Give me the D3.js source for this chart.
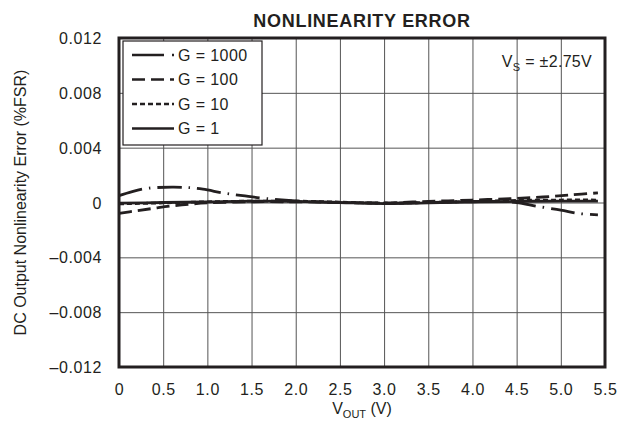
<!DOCTYPE html>
<html>
<head>
<meta charset="utf-8">
<script src="https://cdn.jsdelivr.net/npm/d3@7"></script>
<style>
  body { margin: 0; background: #fff; }
  text { font-family: "Liberation Sans", Arial, sans-serif; fill: #231f20; }
</style>
</head>
<body>
<div id="canvas"></div>
<script>
// values
const xTicks = [0, 0.5, 1.0, 1.5, 2.0, 2.5, 3.0, 3.5, 4.0, 4.5, 5.0, 5.5]
const xTickLabels = ["0", "0.5", "1.0", "1.5", "2.0", "2.5", "3.0", "3.5", "4.0", "4.5", "5.0", "5.5"]
const yTicks = [0.012, 0.008, 0.004, 0, -0.004, -0.008, -0.012]
const yTickLabels = ["0.012", "0.008", "0.004", "0", "–0.004", "–0.008", "–0.012"]

const vout1000 = [0, 0.15, 0.33, 0.6, 0.8, 0.95, 1.2, 1.4, 1.65, 2.0, 2.5, 3.0, 3.5, 4.0, 4.3, 4.5, 4.75, 5.0, 5.2, 5.42]
const err1000 = [0.0005, 0.0008, 0.00104, 0.00112, 0.00108, 0.00097, 0.00067, 0.0005, 0.0003, 0.00012, 0.0, -0.00005, 0.0, 0.00008, 0.00008, 0.0, -0.0003, -0.00055, -0.0008, -0.0009]

const vout100 = [0, 0.2, 0.4, 0.6, 0.8, 1.0, 1.5, 2.0, 2.5, 3.0, 3.5, 4.0, 4.5, 4.8, 5.1, 5.42]
const err100 = [-0.0008, -0.0006, -0.00042, -0.00025, -0.00012, -0.00003, 0.00005, 0.00005, 0.0, -0.00003, 0.00008, 0.00018, 0.0003, 0.0004, 0.00055, 0.0007]

const vout10 = [0, 0.5, 1.0, 1.5, 2.0, 2.5, 3.0, 3.5, 4.0, 4.5, 5.0, 5.42]
const err10 = [-0.0001, -0.00003, 0.00005, 0.0001, 0.0001, 0.00003, -0.00005, 0.0, 0.00008, 0.00015, 0.00018, 0.00018]

const vout1 = [0, 0.5, 1.0, 1.5, 2.0, 2.5, 3.0, 3.5, 4.0, 4.5, 5.0, 5.42]
const err1 = [-0.00005, 0.0, 0.00005, 0.0001, 0.00008, 0.0, -0.00008, -0.00003, 0.00003, 0.00008, 0.0001, 0.0001]

const seriesNames = ["G = 1000", "G = 100", "G = 10", "G = 1"]

const series = [
  {name: seriesNames[0], dash: "24,7,1.5,7", legendDash: "32,8,2,8", x: vout1000, y: err1000},
  {name: seriesNames[1], dash: "13,6", legendDash: "13,6", x: vout100, y: err100},
  {name: seriesNames[2], dash: "5,3", legendDash: "5,3", x: vout10, y: err10},
  {name: seriesNames[3], dash: null, legendDash: null, x: vout1, y: err1},
]

const width = 629
const height = 436
const margin = {top: 38, left: 119, bottom: 69, right: 24}
const iwidth = width - margin.left - margin.right
const iheight = height - margin.top - margin.bottom

const svg = d3.select("#canvas").append("svg")
  .attr("width", width)
  .attr("height", height)

const g = svg.append("g").attr("transform", `translate(${margin.left},${margin.top})`)

const x = d3.scaleLinear().domain([0, 5.5]).range([0, iwidth])
const y = d3.scaleLinear().domain([-0.012, 0.012]).range([iheight, 0])

// grid + tick labels
const xAxis = g.append("g")
  .attr("transform", `translate(0,${iheight})`)
  .call(d3.axisBottom(x).tickValues(xTicks).tickSize(-iheight).tickPadding(17)
    .tickFormat((d, i) => xTickLabels[i]))
const yAxis = g.append("g")
  .call(d3.axisLeft(y).tickValues(yTicks).tickSize(-iwidth).tickPadding(17)
    .tickFormat((d, i) => yTickLabels[i]))

for (const ax of [xAxis, yAxis]) {
  ax.select(".domain").remove()
  ax.selectAll("line").attr("stroke", "#555").attr("stroke-width", 1)
  ax.selectAll("text").attr("font-size", 16).attr("letter-spacing", 0.6)
    .attr("font-family", "Liberation Sans, Arial, sans-serif").attr("fill", "#231f20")
}
yAxis.selectAll("text").attr("dy", "0.35em")

// curves
const line = d3.line().curve(d3.curveCatmullRom)
g.append("g").selectAll("path").data(series).enter().append("path")
  .attr("d", s => line(s.x.map((v, i) => [x(v), y(s.y[i])])))
  .attr("fill", "none")
  .attr("stroke", "#231f20")
  .attr("stroke-width", 2.8)
  .attr("stroke-dasharray", s => s.dash)

// frame
g.append("rect")
  .attr("width", iwidth).attr("height", iheight)
  .attr("fill", "none").attr("stroke", "#231f20").attr("stroke-width", 3)

// legend
const legend = g.append("g").attr("transform", "translate(4,3)")
legend.append("rect")
  .attr("width", 139).attr("height", 104)
  .attr("fill", "#fff").attr("stroke", "#231f20").attr("stroke-width", 1.2)
const items = legend.selectAll(".item").data(series).enter().append("g")
  .attr("transform", (d, i) => `translate(0,${14 + i * 24.5})`)
items.append("line")
  .attr("x1", 9).attr("x2", 51).attr("y1", 0).attr("y2", 0)
  .attr("stroke", "#231f20").attr("stroke-width", 2.6)
  .attr("stroke-dasharray", d => d.legendDash)
items.append("text")
  .attr("x", 55).attr("dy", "0.35em")
  .attr("font-size", 16).attr("letter-spacing", 0.4)
  .text(d => d.name)

// supply note
const note = g.append("text").attr("x", iwidth - 13).attr("y", 29)
  .attr("text-anchor", "end").attr("font-size", 16).attr("letter-spacing", 0.3)
note.append("tspan").text("V")
note.append("tspan").attr("font-size", 11).attr("dy", 4).text("S")
note.append("tspan").attr("dy", -4).text(" = ±2.75V")

// titles
svg.append("text")
  .attr("x", margin.left + iwidth / 2).attr("y", 27)
  .attr("text-anchor", "middle").attr("font-size", 18).attr("font-weight", "bold")
  .attr("letter-spacing", 0.7)
  .text("NONLINEARITY ERROR")

const xl = svg.append("text")
  .attr("x", margin.left + iwidth / 2).attr("y", 414)
  .attr("text-anchor", "middle").attr("font-size", 16)
xl.append("tspan").text("V")
xl.append("tspan").attr("font-size", 11).attr("dy", 4).text("OUT")
xl.append("tspan").attr("dy", -4).text(" (V)")

svg.append("text")
  .attr("transform", `translate(26,${margin.top + iheight / 2}) rotate(-90)`)
  .attr("text-anchor", "middle").attr("font-size", 16)
  .text("DC Output Nonlinearity Error (%FSR)")
</script>
</body>
</html>
